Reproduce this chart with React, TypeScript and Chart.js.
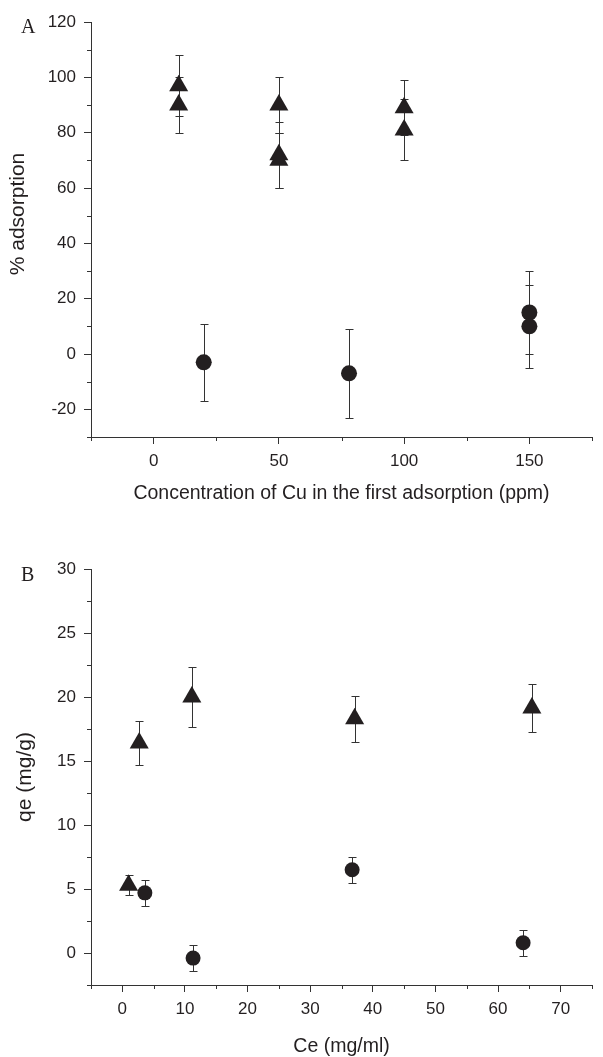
import React, { useEffect, useRef } from "react";
import { Chart, registerables } from "chart.js";

Chart.register(...registerables);

const INK = "#231f20";
const AXIS = "#333333";
const SANS = "'Liberation Sans', Arial, sans-serif";
const SERIF = "'Liberation Serif', 'Times New Roman', serif";

// ---------- Panel A data ----------
const aTriX = [10, 10, 50, 50, 50, 100, 100];
const aTriY = [97, 90, 90, 72, 70, 89, 81];
const aTriErr = [11, 10, 10, 12, 10, 10, 11];
const aCircX = [20, 78, 150, 150];
const aCircY = [-3, -7, 15, 10];
const aCircErr = [14, 16, 15, 15];
const aXMajor = [0, 50, 100, 150];
const aXMinor = [-25, 25, 75, 125, 175];
const aYMajor = [-20, 0, 20, 40, 60, 80, 100, 120];
const aYMinor = [-30, -10, 10, 30, 50, 70, 90, 110];
const aXTitle = "Concentration of Cu in the first adsorption (ppm)";
const aYTitle = "% adsorption";

// ---------- Panel B data ----------
const bTriX = [1.0, 2.7, 11.1, 37.1, 65.4];
const bTriY = [5.3, 16.4, 20.0, 18.3, 19.15];
const bTriErr = [0.8, 1.7, 2.35, 1.8, 1.85];
const bCircX = [3.6, 11.3, 36.7, 64.0];
const bCircY = [4.7, -0.4, 6.5, 0.8];
const bCircErr = [1.0, 1.0, 1.0, 1.0];
const bXMajor = [0, 10, 20, 30, 40, 50, 60, 70];
const bXMinor = [-5, 5, 15, 25, 35, 45, 55, 65, 75];
const bYMajor = [0, 5, 10, 15, 20, 25, 30];
const bYMinor = [-2.5, 2.5, 7.5, 12.5, 17.5, 22.5, 27.5];
const bXTitle = "Ce (mg/ml)";
const bYTitle = "qe (mg/g)";

const errorBarPlugin = {
  id: "errorBars",
  beforeDatasetsDraw(chart: any) {
    const { ctx } = chart;
    const xs = chart.scales.x;
    const ys = chart.scales.y;
    ctx.save();
    ctx.strokeStyle = AXIS;
    ctx.lineWidth = 1;
    chart.data.datasets.forEach((ds: any) => {
      const errs = ds.errors;
      if (!errs) return;
      ds.data.forEach((p: any, j: number) => {
        const e = errs[j];
        const px = Math.round(xs.getPixelForValue(p.x)) + 0.5;
        const yTop = Math.round(ys.getPixelForValue(p.y + e)) + 0.5;
        const yBot = Math.round(ys.getPixelForValue(p.y - e)) + 0.5;
        ctx.beginPath();
        ctx.moveTo(px, yTop);
        ctx.lineTo(px, yBot);
        ctx.moveTo(px - 4, yTop);
        ctx.lineTo(px + 4, yTop);
        ctx.moveTo(px - 4, yBot);
        ctx.lineTo(px + 4, yBot);
        ctx.stroke();
      });
    });
    ctx.restore();
  },
};

function makeMinorTicks(xMinor: number[], yMinor: number[]) {
  return {
    id: "minorTicks",
    afterDraw(chart: any) {
      const { ctx, chartArea } = chart;
      const xs = chart.scales.x;
      const ys = chart.scales.y;
      ctx.save();
      ctx.strokeStyle = AXIS;
      ctx.lineWidth = 1;
      ctx.beginPath();
      xMinor.forEach((v) => {
        const px = Math.round(xs.getPixelForValue(v)) + 0.5;
        ctx.moveTo(px, chartArea.bottom);
        ctx.lineTo(px, chartArea.bottom + 4);
      });
      yMinor.forEach((v) => {
        const py = Math.round(ys.getPixelForValue(v)) + 0.5;
        ctx.moveTo(chartArea.left, py);
        ctx.lineTo(chartArea.left - 4, py);
      });
      ctx.stroke();
      ctx.restore();
    },
  };
}

type TextItem = {
  text: string;
  x: number;
  y: number;
  font: string;
  rotate?: boolean;
  align?: CanvasTextAlign;
  baseline?: CanvasTextBaseline;
};

function makeTexts(items: TextItem[]) {
  return {
    id: "panelTexts",
    afterDraw(chart: any) {
      const { ctx } = chart;
      items.forEach((it) => {
        ctx.save();
        ctx.fillStyle = INK;
        ctx.font = it.font;
        ctx.textAlign = it.align || "left";
        ctx.textBaseline = it.baseline || "alphabetic";
        ctx.translate(it.x, it.y);
        if (it.rotate) ctx.rotate(-Math.PI / 2);
        ctx.fillText(it.text, 0, 0);
        ctx.restore();
      });
    },
  };
}

type Spec = {
  width: number;
  height: number;
  padTop: number;
  padRight: number;
  yAxisWidth: number;
  xAxisHeight: number;
  xMin: number;
  xMax: number;
  yMin: number;
  yMax: number;
  xMajor: number[];
  xMinor: number[];
  yMajor: number[];
  yMinor: number[];
  triX: number[];
  triY: number[];
  triErr: number[];
  circX: number[];
  circY: number[];
  circErr: number[];
  circRadius: number;
  xTitle: string;
  xTitlePad: number;
  yTitle: string;
  yTitleChart: boolean;
  yTitlePad: number;
  texts: TextItem[];
};

function tickList(major: number[], minor: number[]) {
  return [...major, ...minor].sort((a, b) => a - b).map((v) => ({ value: v }));
}

function buildConfig(s: Spec): any {
  const tickFont = { family: SANS, size: 17 };
  return {
    type: "scatter",
    data: {
      datasets: [
        {
          label: "circles",
          data: s.circX.map((x, i) => ({ x, y: s.circY[i] })),
          errors: s.circErr,
          pointStyle: "circle",
          pointRadius: s.circRadius,
          pointHoverRadius: s.circRadius,
          backgroundColor: INK,
          borderColor: INK,
          borderWidth: 0,
          showLine: false,
        },
        {
          label: "triangles",
          data: s.triX.map((x, i) => ({ x, y: s.triY[i] })),
          errors: s.triErr,
          pointStyle: "triangle",
          pointRadius: 11,
          pointHoverRadius: 11,
          backgroundColor: INK,
          borderColor: INK,
          borderWidth: 0,
          showLine: false,
        },
      ],
    },
    options: {
      responsive: false,
      animation: false,
      devicePixelRatio: 1,
      events: [],
      layout: { padding: { left: 0, top: s.padTop, right: s.padRight, bottom: 0 } },
      plugins: { legend: { display: false }, tooltip: { enabled: false } },
      scales: {
        x: {
          type: "linear",
          position: "bottom",
          min: s.xMin,
          max: s.xMax,
          afterBuildTicks: (sc: any) => {
            sc.ticks = tickList(s.xMajor, s.xMinor);
          },
          afterFit: (sc: any) => {
            sc.height = s.xAxisHeight;
          },
          ticks: {
            autoSkip: false,
            maxRotation: 0,
            minRotation: 0,
            padding: 7,
            color: INK,
            font: tickFont,
            callback: (v: number) => (s.xMajor.includes(v) ? String(v) : ""),
          },
          grid: {
            display: true,
            drawOnChartArea: false,
            drawTicks: true,
            tickLength: 7,
            tickWidth: 1,
            tickColor: (c: any) =>
              c.tick && s.xMajor.includes(c.tick.value) ? AXIS : "rgba(0,0,0,0)",
          },
          border: { display: true, color: AXIS, width: 1 },
          title: {
            display: true,
            text: s.xTitle,
            color: INK,
            font: { family: SANS, size: 19.5, lineHeight: 1 },
            padding: { top: 0, bottom: s.xTitlePad },
          },
        },
        y: {
          type: "linear",
          position: "left",
          min: s.yMin,
          max: s.yMax,
          afterBuildTicks: (sc: any) => {
            sc.ticks = tickList(s.yMajor, s.yMinor);
          },
          afterFit: (sc: any) => {
            sc.width = s.yAxisWidth;
          },
          ticks: {
            autoSkip: false,
            padding: 8,
            color: INK,
            font: tickFont,
            callback: (v: number) => (s.yMajor.includes(v) ? String(v) : ""),
          },
          grid: {
            display: true,
            drawOnChartArea: false,
            drawTicks: true,
            tickLength: 7,
            tickWidth: 1,
            tickColor: (c: any) =>
              c.tick && s.yMajor.includes(c.tick.value) ? AXIS : "rgba(0,0,0,0)",
          },
          border: { display: true, color: AXIS, width: 1 },
          title: {
            display: s.yTitleChart,
            text: s.yTitle,
            color: INK,
            font: { family: SANS, size: 21, lineHeight: 1 },
            padding: { top: s.yTitlePad, bottom: 0 },
          },
        },
      },
    },
    plugins: [errorBarPlugin, makeMinorTicks(s.xMinor, s.yMinor), makeTexts(s.texts)],
  };
}

const specA: Spec = {
  width: 603,
  height: 520,
  padTop: 22,
  padRight: 2,
  yAxisWidth: 91,
  xAxisHeight: 83,
  xMin: -25,
  xMax: 175,
  yMin: -30,
  yMax: 120,
  xMajor: aXMajor,
  xMinor: aXMinor,
  yMajor: aYMajor,
  yMinor: aYMinor,
  triX: aTriX,
  triY: aTriY,
  triErr: aTriErr,
  circX: aCircX,
  circY: aCircY,
  circErr: aCircErr,
  circRadius: 8,
  xTitle: aXTitle,
  xTitlePad: 17,
  yTitle: aYTitle,
  yTitleChart: false,
  yTitlePad: 0,
  texts: [
    { text: "A", x: 21, y: 33, font: `20px ${SERIF}` },
    {
      text: aYTitle,
      x: 18,
      y: 214,
      font: `21px ${SANS}`,
      rotate: true,
      align: "center",
      baseline: "middle",
    },
  ],
};

const specB: Spec = {
  width: 603,
  height: 537,
  padTop: 49,
  padRight: 0,
  yAxisWidth: 91,
  xAxisHeight: 72,
  xMin: -5,
  xMax: 75,
  yMin: -2.5,
  yMax: 30,
  xMajor: bXMajor,
  xMinor: bXMinor,
  yMajor: bYMajor,
  yMinor: bYMinor,
  triX: bTriX,
  triY: bTriY,
  triErr: bTriErr,
  circX: bCircX,
  circY: bCircY,
  circErr: bCircErr,
  circRadius: 7.5,
  xTitle: bXTitle,
  xTitlePad: 1,
  yTitle: bYTitle,
  yTitleChart: true,
  yTitlePad: 14.5,
  texts: [{ text: "B", x: 21, y: 61, font: `20px ${SERIF}` }],
};

function Panel({ spec }: { spec: Spec }) {
  const ref = useRef<HTMLCanvasElement>(null);
  useEffect(() => {
    if (!ref.current) return;
    const chart = new Chart(ref.current, buildConfig(spec));
    return () => chart.destroy();
  }, [spec]);
  return (
    <canvas
      ref={ref}
      width={spec.width}
      height={spec.height}
      style={{ display: "block", width: spec.width, height: spec.height }}
    />
  );
}

export default function App() {
  return (
    <div
      style={{
        position: "absolute",
        left: 0,
        top: 0,
        width: 603,
        height: 1057,
        background: "#ffffff",
      }}
    >
      <Panel spec={specA} />
      <Panel spec={specB} />
    </div>
  );
}
